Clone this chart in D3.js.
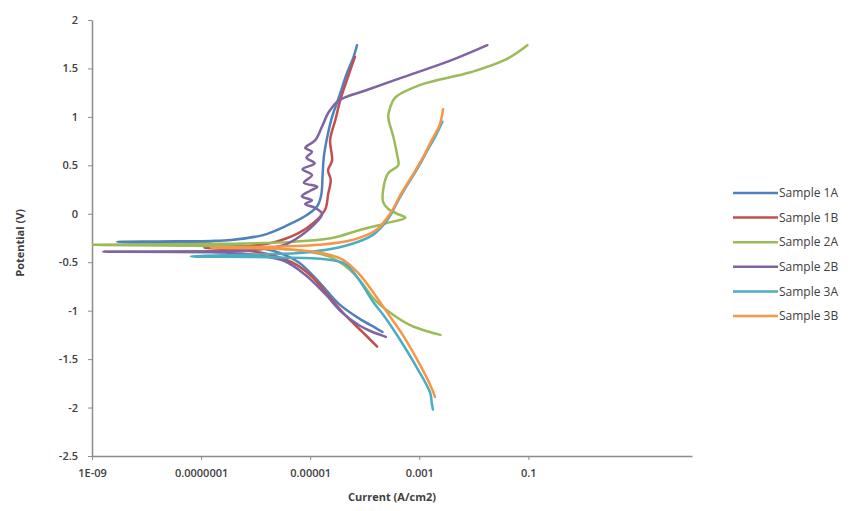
<!DOCTYPE html>
<html>
<head>
<meta charset="utf-8">
<script src="https://cdn.jsdelivr.net/npm/d3@7"></script>
<style>
  body { margin: 0; background: #fff; }
  text { font-family: "Open Sans", Lato, sans-serif; fill: #404040; }
</style>
</head>
<body>
<div id="chart"></div>
<script>
var width = 867,
    height = 511;

// tick values / labels
var xTicks = [1e-9, 1e-7, 1e-5, 1e-3, 1e-1];
var xTickLabels = ["1E-09", "0.0000001", "0.00001", "0.001", "0.1"];
var yTicks = [-2.5, -2, -1.5, -1, -0.5, 0, 0.5, 1, 1.5, 2];

var seriesNames = ["Sample 1A", "Sample 1B", "Sample 2A", "Sample 2B", "Sample 3A", "Sample 3B"];
var seriesColors = ["#4F81BD", "#C0504D", "#9BBB59", "#8064A2", "#4BACC6", "#F79646"];

// [current A/cm2, potential V], cathodic end -> Ecorr -> anodic end
var sample1A = [[2.12e-4,-1.22],[1.6e-4,-1.18],[7.85e-5,-1.08],[3.35e-5,-0.93],[1.43e-5,-0.7],[6.1e-6,-0.5],
  [2.6e-6,-0.4],[8.36e-7,-0.34],[1.52e-7,-0.31],[1.57e-8,-0.30],[2.86e-9,-0.29],[1.57e-8,-0.285],[1.52e-7,-0.28],
  [3.56e-7,-0.27],[1.36e-6,-0.22],[3.77e-6,-0.12],[8.83e-6,-0.01],[1.35e-5,0.08],[1.6e-5,0.2],[1.69e-5,0.4],
  [1.79e-5,0.6],[2.07e-5,0.8],[2.52e-5,1.0],[3.35e-5,1.2],[4.71e-5,1.45],[6.25e-5,1.62],[7.21e-5,1.74]];

var sample1B = [[1.69e-4,-1.37],[9.06e-5,-1.22],[4.45e-5,-1.05],[2.19e-5,-0.85],[1.08e-5,-0.65],[4.59e-6,-0.5],
  [1.48e-6,-0.41],[4.74e-7,-0.37],[1.15e-7,-0.35],[4.74e-7,-0.34],[1.96e-6,-0.3],[6.1e-6,-0.2],[1.24e-5,-0.08],
  [1.9e-5,0.05],[2.13e-5,0.2],[2.38e-5,0.35],[2.13e-5,0.45],[2.52e-5,0.55],[2.32e-5,0.76],[2.9e-5,0.97],
  [3.55e-5,1.17],[4.71e-5,1.38],[6.62e-5,1.62]];

var sample2A = [[2.44e-3,-1.25],[1.34e-3,-1.21],[6.79e-4,-1.15],[2.9e-4,-1.02],[1.43e-4,-0.87],[9.06e-5,-0.72],
  [5.13e-5,-0.57],[2.19e-5,-0.44],[4.59e-6,-0.37],[2.69e-7,-0.335],[1e-9,-0.32],[2.69e-7,-0.31],[4.59e-6,-0.29],
  [2.52e-5,-0.25],[7.85e-5,-0.17],[2.38e-4,-0.1],[5.54e-4,-0.04],[3.95e-4,0.0],[2.7e-4,0.05],[2.18e-4,0.12],
  [2.18e-4,0.25],[2.7e-4,0.42],[4.12e-4,0.5],[3.95e-4,0.6],[3.33e-4,0.8],[2.7e-4,1.0],[2.94e-4,1.1],
  [3.63e-4,1.2],[1.05e-3,1.33],[8.7e-3,1.46],[3.8e-2,1.59],[9.6e-2,1.74]];

var sample2B = [[2.44e-4,-1.27],[1.95e-4,-1.25],[1.39e-4,-1.22],[7.85e-5,-1.15],[3.86e-5,-1.02],[1.9e-5,-0.83],
  [8.11e-6,-0.63],[3.46e-6,-0.49],[1.11e-6,-0.43],[2.69e-7,-0.40],[1.6e-9,-0.39],[2.69e-7,-0.385],[1.11e-6,-0.37],
  [3.46e-6,-0.32],[7.03e-6,-0.22],[1.24e-5,-0.1],[1.65e-5,0.0],[1.24e-5,0.06],[8.11e-6,0.1],[1.08e-5,0.14],
  [7.03e-6,0.18],[1.02e-5,0.24],[1.35e-5,0.28],[7.66e-6,0.32],[1.08e-5,0.4],[7.23e-6,0.46],[1.21e-5,0.52],
  [8.57e-6,0.58],[1.08e-5,0.64],[8.11e-6,0.68],[1.24e-5,0.76],[1.65e-5,0.9],[2.19e-5,1.05],[3.35e-5,1.17],
  [1.0e-4,1.27],[4.5e-4,1.4],[3.7e-3,1.58],[1.77e-2,1.74]];

var sample3A = [[1.78e-3,-2.02],[1.69e-3,-1.95],[1.59e-3,-1.85],[9.29e-4,-1.6],[4.44e-4,-1.3],[2.44e-4,-1.08],
  [1.39e-4,-0.9],[7.85e-5,-0.68],[4.45e-5,-0.52],[1.9e-5,-0.47],[2.6e-6,-0.45],[6.49e-8,-0.44],[1.11e-6,-0.42],
  [8.11e-6,-0.4],[4.45e-5,-0.33],[1.39e-4,-0.22],[2.31e-4,-0.1],[3.07e-4,0.0],[3.96e-4,0.12],[6.07e-4,0.3],
  [9.55e-4,0.48],[1.46e-3,0.67],[2.06e-3,0.82],[2.65e-3,0.95]];

var sample3B = [[1.94e-3,-1.89],[1.69e-3,-1.8],[1.01e-3,-1.55],[4.97e-4,-1.25],[2.59e-4,-1.02],[1.47e-4,-0.82],
  [7.85e-5,-0.62],[3.86e-5,-0.47],[1.43e-5,-0.4],[1.96e-6,-0.36],[1.52e-7,-0.35],[1.96e-6,-0.34],[1.43e-5,-0.32],
  [5.92e-5,-0.27],[1.6e-4,-0.17],[2.44e-4,-0.06],[3.24e-4,0.04],[4.56e-4,0.2],[7.19e-4,0.38],[1.16e-3,0.58],
  [1.69e-3,0.76],[2.37e-3,0.92],[2.73e-3,1.08]];

var allSeries = [sample1A, sample1B, sample2A, sample2B, sample3A, sample3B];

var margin = {left: 92, right: 175, top: 20, bottom: 55};

var x = d3.scaleLog()
  .domain([1e-9, 100])
  .range([margin.left, width - margin.right]);

var y = d3.scaleLinear()
  .domain([-2.5, 2])
  .range([height - margin.bottom, margin.top]);

var svg = d3.select("#chart").append("svg")
  .attr("width", width)
  .attr("height", height);

svg.append("clipPath").attr("id", "clip")
  .append("rect")
  .attr("x", margin.left).attr("y", margin.top - 5)
  .attr("width", width - margin.right - margin.left)
  .attr("height", height - margin.bottom - margin.top + 5);

// axes
var xAxis = d3.axisBottom(x)
  .tickValues(xTicks)
  .tickFormat(function(d, i) { return xTickLabels[i]; })
  .tickSize(4)
  .tickSizeOuter(0)
  .tickPadding(9);

var yAxis = d3.axisLeft(y)
  .tickValues(yTicks)
  .tickFormat(function(d) { return d; })
  .tickSize(4)
  .tickSizeOuter(0)
  .tickPadding(10);

var gx = svg.append("g")
  .attr("transform", "translate(0," + y(-2.5) + ")")
  .call(xAxis);
var gy = svg.append("g")
  .attr("transform", "translate(" + margin.left + ",0)")
  .call(yAxis);

[gx, gy].forEach(function(g) {
  g.select(".domain").attr("stroke", "#8c8c8c").attr("stroke-width", 1.5);
  g.selectAll(".tick line").attr("stroke", "#8c8c8c");
  g.selectAll(".tick text")
    .style("font-family", "'Open Sans', Lato, sans-serif")
    .style("font-size", "11px")
    .style("font-weight", "600")
    .attr("fill", "#404040");
});

// axis titles
svg.append("text")
  .attr("x", (x.range()[0] + x.range()[1]) / 2)
  .attr("y", 501)
  .attr("text-anchor", "middle")
  .style("font-size", "11px")
  .style("font-weight", "bold")
  .text("Current (A/cm2)");

svg.append("text")
  .attr("transform", "translate(24," + y(-0.3) + ") rotate(-90)")
  .attr("text-anchor", "middle")
  .style("font-size", "11px")
  .style("font-weight", "bold")
  .text("Potential (V)");

// curves
var line = d3.line()
  .x(function(d) { return x(d[0]); })
  .y(function(d) { return y(d[1]); })
  .curve(d3.curveCatmullRom.alpha(0.5));

svg.append("g")
  .attr("clip-path", "url(#clip)")
  .selectAll("path")
  .data(allSeries)
  .enter()
  .append("path")
    .attr("d", line)
    .attr("fill", "none")
    .attr("stroke", function(d, i) { return seriesColors[i]; })
    .attr("stroke-width", 2.5)
    .attr("stroke-linejoin", "round")
    .attr("stroke-linecap", "round");

// legend
var legend = svg.append("g")
  .attr("transform", "translate(733,193)");

var item = legend.selectAll("g")
  .data(seriesNames)
  .enter()
  .append("g")
    .attr("transform", function(d, i) { return "translate(0," + i * 24.6 + ")"; });

item.append("line")
  .attr("x1", 0).attr("x2", 45)
  .attr("stroke", function(d, i) { return seriesColors[i]; })
  .attr("stroke-width", 2.5);

item.append("text")
  .attr("x", 46)
  .attr("dy", "0.35em")
  .style("font-size", "12px")
  .text(function(d) { return d; });
</script>
</body>
</html>
